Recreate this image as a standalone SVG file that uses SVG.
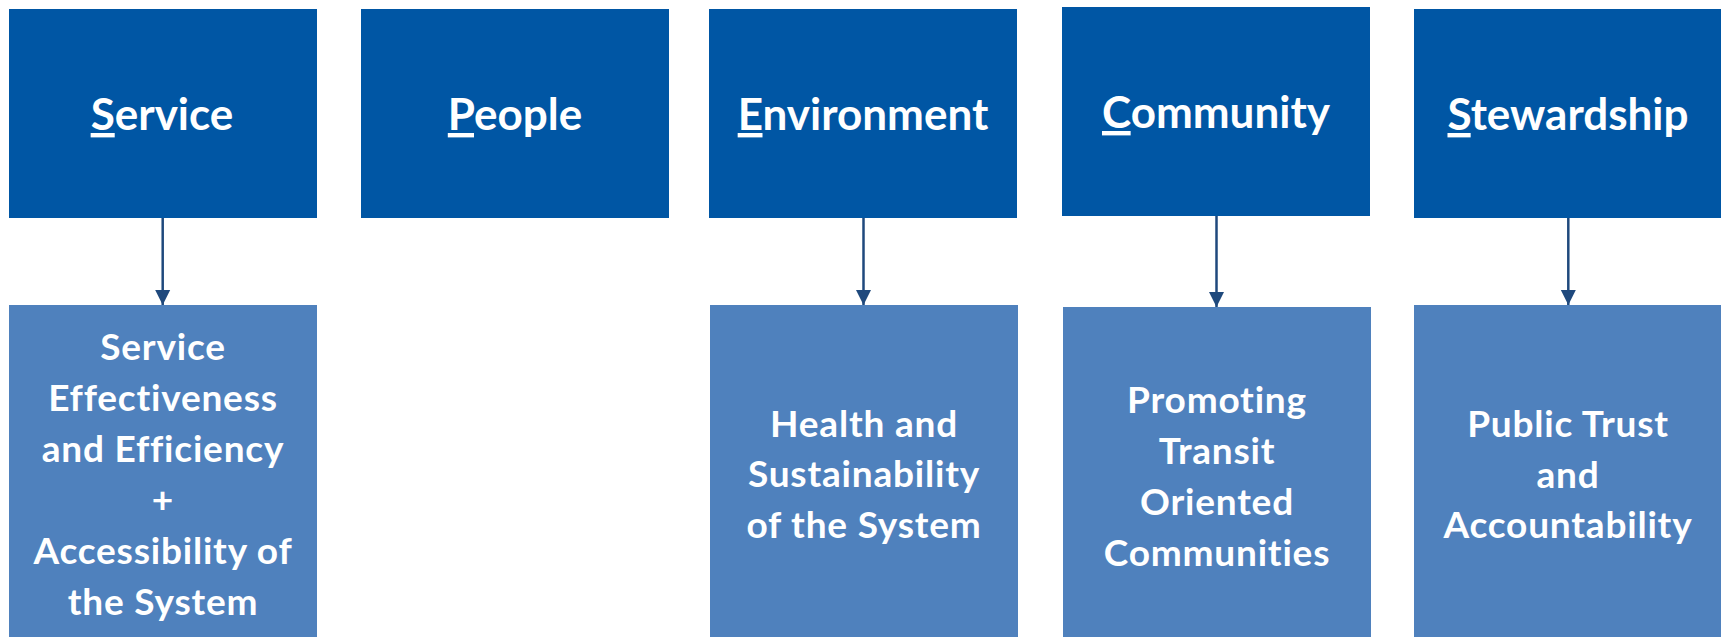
<svg xmlns="http://www.w3.org/2000/svg" width="1721" height="637" viewBox="0 0 1721 637">
<defs>
<style>
.top{fill:#0056A4}
.bot{fill:#4F81BD}
.t1{font-family:Lato,"Open Sans","Liberation Sans",sans-serif;font-weight:bold;font-size:44px;fill:#fff;text-anchor:middle;font-variant-ligatures:none}
.t2{font-family:Lato,"Open Sans","Liberation Sans",sans-serif;font-weight:bold;font-size:37px;letter-spacing:0.8px;fill:#fff;text-anchor:middle;font-variant-ligatures:none}
.u{text-decoration:underline}
.c{stroke:#1F497D;stroke-width:2.5;fill:none}
</style>
<marker id="ah" markerUnits="userSpaceOnUse" markerWidth="16" markerHeight="16" viewBox="0 0 16 16" refX="15" refY="8" orient="auto">
<path d="M0,0.5 L15,8 L0,15.5 Z" fill="#1F497D"/>
</marker>
</defs>
<rect width="1721" height="637" fill="#fff"/>
<g id="service">
<rect class="top" x="9" y="9" width="308" height="209"/>
<text class="t1" x="162" y="130"><tspan class="u">S</tspan>ervice</text>
</g>
<g id="people">
<rect class="top" x="361" y="9" width="308" height="209"/>
<text class="t1" x="515" y="130"><tspan class="u">P</tspan>eople</text>
</g>
<g id="environment">
<rect class="top" x="709" y="9" width="308" height="209"/>
<text class="t1" x="863" y="130"><tspan class="u">E</tspan>nvironment</text>
</g>
<g id="community">
<rect class="top" x="1062" y="7" width="308" height="209"/>
<text class="t1" x="1216" y="128"><tspan class="u">C</tspan>ommunity</text>
</g>
<g id="stewardship">
<rect class="top" x="1414" y="9" width="308" height="209"/>
<text class="t1" x="1568" y="130"><tspan class="u">S</tspan>tewardship</text>
</g>
<g id="service-goal">
<rect class="bot" x="9" y="305" width="308" height="332"/>
<text class="t2" x="163"><tspan x="163" y="360">Service</tspan><tspan x="163" y="411">Effectiveness</tspan><tspan x="163" y="462">and Efficiency</tspan><tspan x="163" y="513">+</tspan><tspan x="163" y="564">Accessibility of</tspan><tspan x="163" y="615">the System</tspan></text>
</g>
<g id="environment-goal">
<rect class="bot" x="710" y="305" width="308" height="332"/>
<text class="t2" x="864"><tspan x="864" y="437">Health and</tspan><tspan x="864" y="487">Sustainability</tspan><tspan x="864" y="538">of the System</tspan></text>
</g>
<g id="community-goal">
<rect class="bot" x="1063" y="307" width="308" height="330"/>
<text class="t2" x="1217"><tspan x="1217" y="413">Promoting</tspan><tspan x="1217" y="464">Transit</tspan><tspan x="1217" y="515">Oriented</tspan><tspan x="1217" y="566">Communities</tspan></text>
</g>
<g id="stewardship-goal">
<rect class="bot" x="1414" y="305" width="308" height="332"/>
<text class="t2" x="1568"><tspan x="1568" y="437">Public Trust</tspan><tspan x="1568" y="488">and</tspan><tspan x="1568" y="538">Accountability</tspan></text>
</g>
<g id="connectors">
<line class="c" x1="162.7" y1="218" x2="162.7" y2="305" marker-end="url(#ah)"/>
<line class="c" x1="863.5" y1="218" x2="863.5" y2="305" marker-end="url(#ah)"/>
<line class="c" x1="1216.5" y1="216" x2="1216.5" y2="307" marker-end="url(#ah)"/>
<line class="c" x1="1568.3" y1="218" x2="1568.3" y2="305" marker-end="url(#ah)"/>
</g>
</svg>
